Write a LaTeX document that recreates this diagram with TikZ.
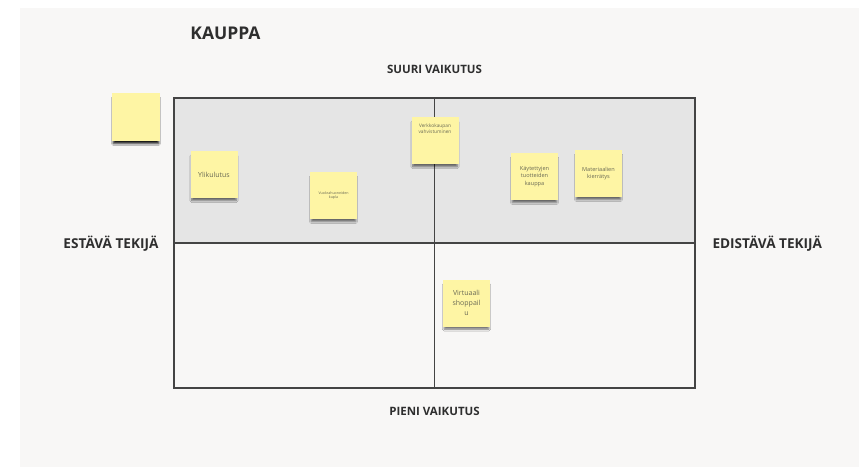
\documentclass[tikz,border=0pt]{standalone}
\usepackage{fontspec}
\setmainfont{Open Sans}
\usepackage{tikz}
\usetikzlibrary{shadows.blur}

\definecolor{canvas}{HTML}{F8F7F6}
\definecolor{topfill}{HTML}{E5E5E5}
\definecolor{gridline}{HTML}{444444}
\definecolor{sticky}{HTML}{FEF5A4}
\definecolor{notetext}{HTML}{6A6A55}
\definecolor{labeltext}{HTML}{2E2E2E}

\begin{document}
\begin{tikzpicture}[
    x=1pt, y=-1pt,
    note/.style={rectangle, fill=sticky, minimum width=47pt, minimum height=47pt, inner sep=1pt, align=center, text=notetext},
    noteshadow/.style={blur shadow={shadow xshift=0pt, shadow yshift=-4pt, shadow scale=0.95, shadow opacity=#1, shadow blur steps=6, shadow blur radius=2pt}},
    axislabel/.style={font=\fontsize{11.5}{13}\selectfont\bfseries, text=labeltext},
]
    \useasboundingbox (0,0) rectangle (859,467);
    \fill[white] (0,0) rectangle (859,467);
    \fill[canvas] (20,8) rectangle (859,467);

    % quadrants
    \node[rectangle, minimum width=521pt, minimum height=290pt, inner sep=0pt] (frame) at (434.5,243) {};
    \fill[topfill] (frame.north west) rectangle (frame.east);
    \draw[gridline, line width=1.6pt] (frame.north west) rectangle (frame.south east);
    \draw[gridline, line width=1.6pt] (frame.north) -- (frame.south);
    \draw[gridline, line width=1.4pt] (frame.west) -- (frame.east);

    % titles and axes
    \node[font=\fontsize{17.5}{19}\selectfont\bfseries, text=labeltext] (title) at (225.5,33) {KAUPPA};
    \node[axislabel] (high) at (434.5,69) {SUURI VAIKUTUS};
    \node[axislabel] (low) at (434.5,411) {PIENI VAIKUTUS};
    \node[axislabel, font=\fontsize{13.6}{15}\selectfont\bfseries, anchor=east] (block) at (162,244) {ESTÄVÄ TEKIJÄ};
    \node[axislabel, font=\fontsize{13.6}{15}\selectfont\bfseries, anchor=west] (drive) at (709,244) {EDISTÄVÄ TEKIJÄ};

    % sticky notes
    \node[note, noteshadow=90, minimum width=48pt, minimum height=48pt] (loose) at (136,117) {};
    \node[note, noteshadow=55, font=\fontsize{7}{8}\selectfont] (n1) at (214,174.5) {Ylikulutus};
    \node[note, noteshadow=55, font=\fontsize{3.6}{4.5}\selectfont] (n2) at (333.5,195.5) {Vuokrahuoneiden\\kupla};
    \node[note, noteshadow=55, font=\fontsize{4.8}{6}\selectfont, anchor=north] (n3) at (435,117) {\\[1pt]Verkkokaupan\\vahvistuminen\\[22pt]};
    \node[note, noteshadow=55, font=\fontsize{5.6}{7.5}\selectfont] (n4) at (534.5,176.5) {Käytettyjen\\tuotteiden\\kauppa};
    \node[note, noteshadow=55, font=\fontsize{5.6}{7.5}\selectfont] (n5) at (598.5,173.5) {Materiaalien\\kierrätys};
    \node[note, noteshadow=55, font=\fontsize{7}{10}\selectfont] (n6) at (466.5,303) {Virtuaali\\shoppail\\u};
\end{tikzpicture}
\end{document}
